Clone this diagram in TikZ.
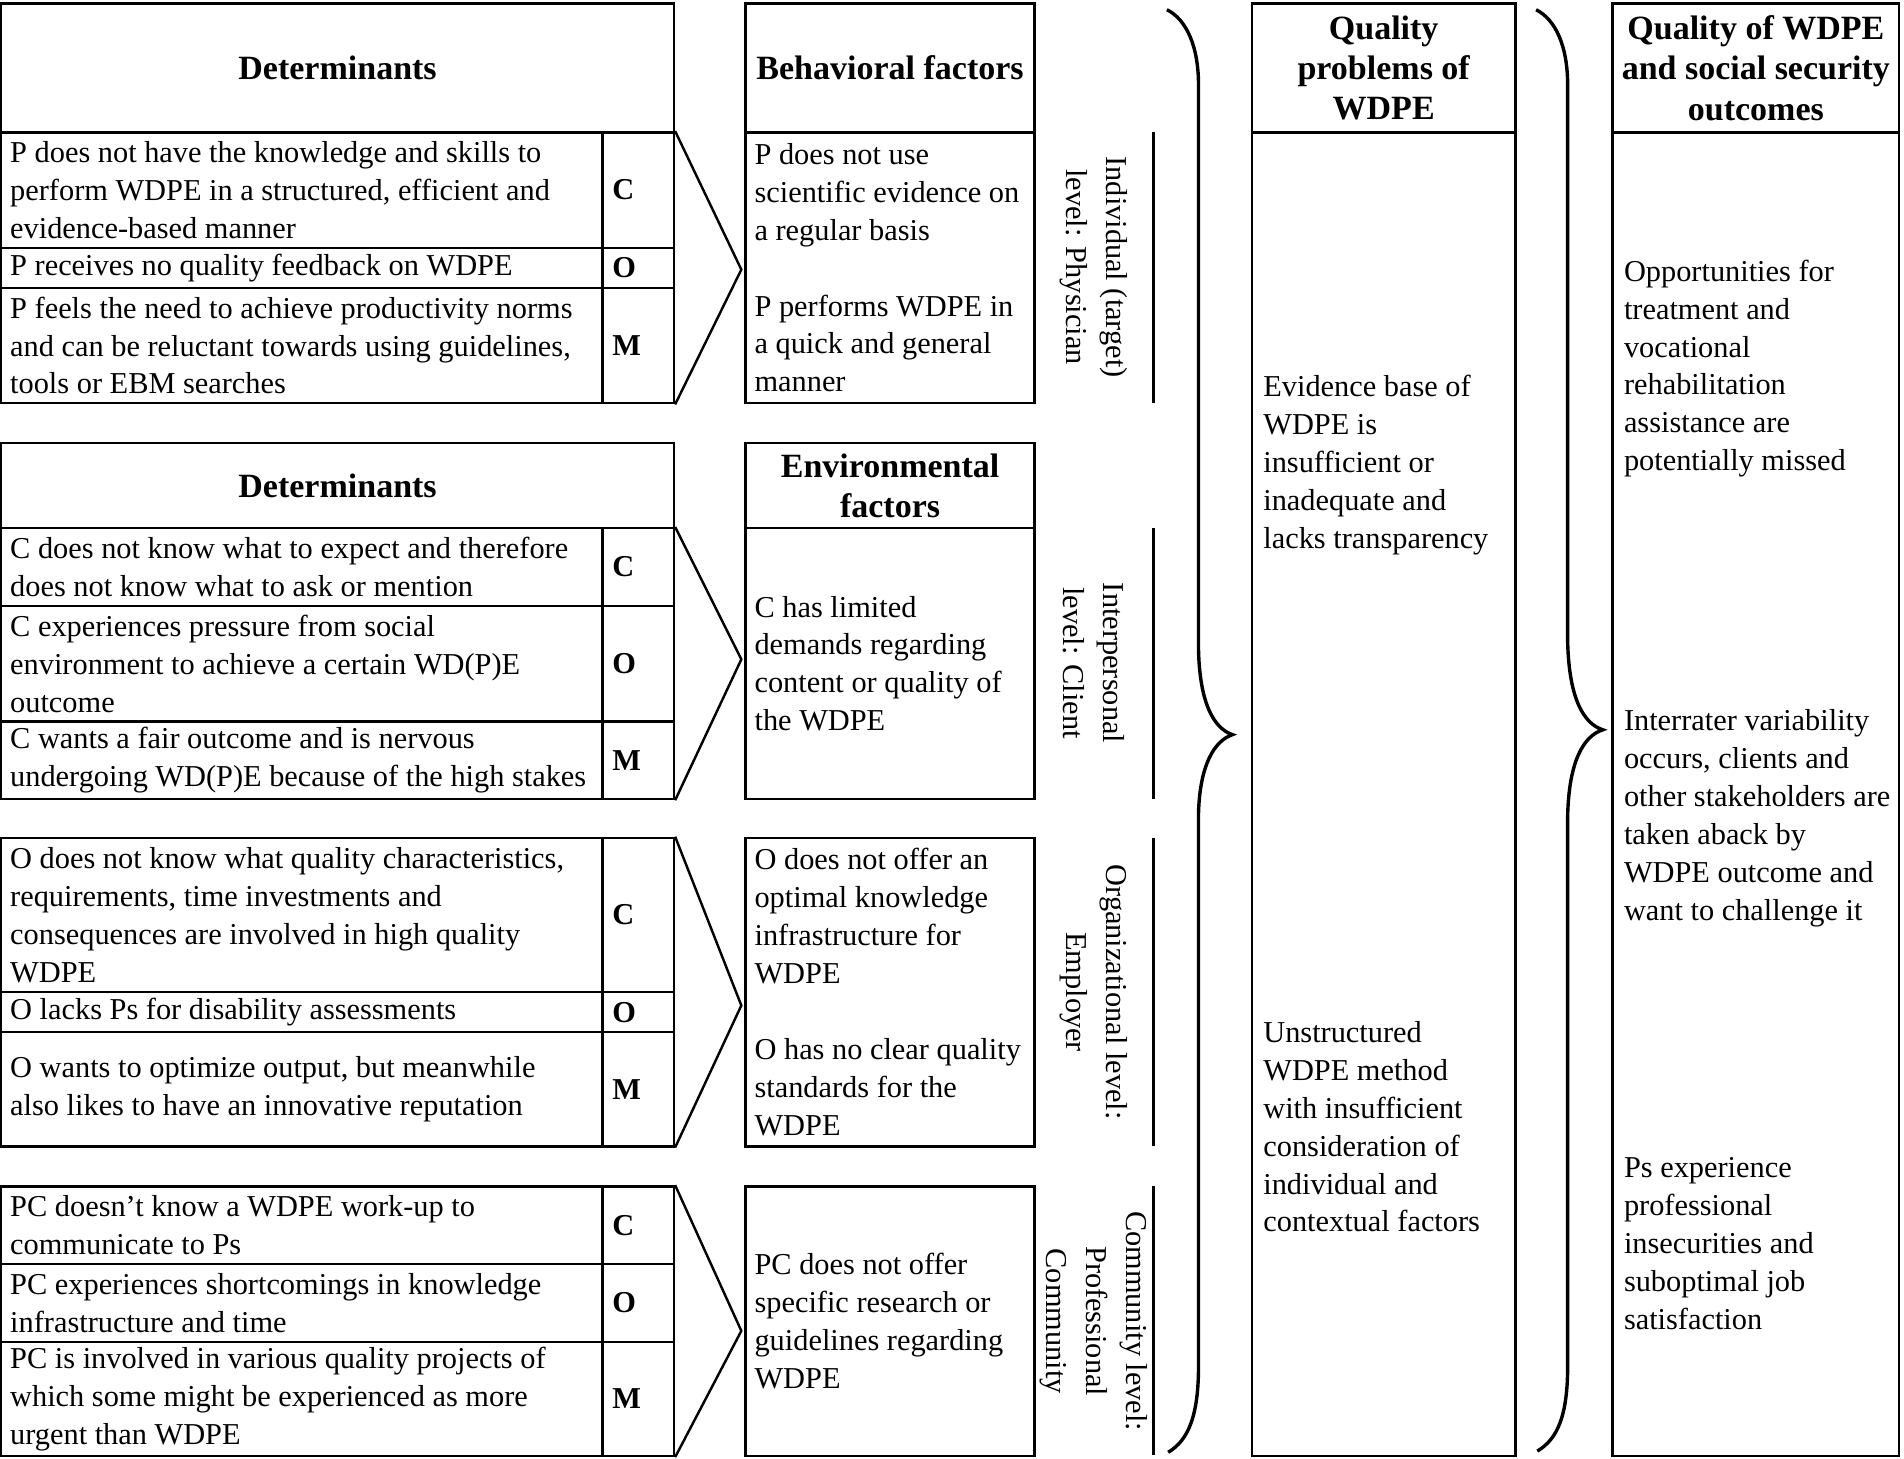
\documentclass[tikz,border=0pt]{standalone}
\usepackage{fontspec}
\setmainfont{Liberation Serif}
\usetikzlibrary{fit}
\tikzset{
  cell/.style={draw, line width=1pt, inner sep=0pt},
  body/.style={font=\fontsize{12.5}{15.6}\selectfont, align=left, inner sep=0pt},
  hdr/.style={font=\fontsize{14}{16.6}\selectfont\bfseries, align=center, inner sep=0pt},
  cml/.style={font=\fontsize{12.5}{15.6}\selectfont\bfseries, inner sep=0pt},
  lvl/.style={font=\fontsize{12.5}{16.5}\selectfont, align=center, rotate=-90, inner sep=0pt},
  chev/.style={line width=1pt, line join=miter},
  bracepath/.style={line width=1.4pt},
  lvline/.style={line width=1.1pt}
}
\newcommand\cellbox[3]{\node[cell, fit={#2 #3}] (#1) {};}
\begin{document}
\begin{tikzpicture}[x=0.5pt,y=-0.5pt]
\useasboundingbox (0,0) rectangle (1568,1200.7);

% ---------------- Block 1 ----------------
\cellbox{aH1}{(1,3)}{(555,109)}
\cellbox{aR11}{(1,109)}{(496,204)}\cellbox{aL11}{(496,109)}{(555,204)}
\cellbox{aR12}{(1,204)}{(496,237)}\cellbox{aL12}{(496,204)}{(555,237)}
\cellbox{aR13}{(1,237)}{(496,332)}\cellbox{aL13}{(496,237)}{(555,332)}
\node[hdr] (tH1) at (aH1.center) {Determinants};
\node[body, anchor=west, xshift=4pt] (t11) at (aR11.west) {P does not have the knowledge and skills to\\perform WDPE in a structured, efficient and\\evidence-based manner};
\node[body, anchor=west, xshift=4pt] (t12) at (aR12.west) {P receives no quality feedback on WDPE};
\node[body, anchor=west, xshift=4pt] (t13) at (aR13.west) {P feels the need to achieve productivity norms\\and can be reluctant towards using guidelines,\\tools or EBM searches};
\node[cml, anchor=west, xshift=4.5pt] (l11) at (aL11.west) {C};
\node[cml, anchor=west, xshift=4.5pt] (l12) at (aL12.west) {O};
\node[cml, anchor=west, xshift=4.5pt] (l13) at (aL13.west) {M};
\coordinate (tip1) at (610.5,222);
\draw[chev] (aL11.north east) -- (tip1) -- (aL13.south east);
\cellbox{bH1}{(614,3)}{(852,109)}
\cellbox{bB1}{(614,109)}{(852,332)}
\node[hdr] (tbH1) at (bH1.center) {Behavioral factors};
\node[body, anchor=west, xshift=4pt] (tb1) at (bB1.west) {P does not use\\scientific evidence on\\a regular basis\\[15.6pt]P performs WDPE in\\a quick and general\\manner};
\node[lvl] (lv1) at (900.5,220) {Individual (target)\\level: Physician};
\coordinate (v1a) at (950,109); \coordinate (v1b) at (950,332);
\draw[lvline] (v1a) -- (v1b);

% ---------------- Block 2 ----------------
\cellbox{aH2}{(1,365)}{(555,435)}
\cellbox{aR21}{(1,435)}{(496,499)}\cellbox{aL21}{(496,435)}{(555,499)}
\cellbox{aR22}{(1,499)}{(496,594)}\cellbox{aL22}{(496,499)}{(555,594)}
\cellbox{aR23}{(1,594)}{(496,658)}\cellbox{aL23}{(496,594)}{(555,658)}
\node[hdr] (tH2) at (aH2.center) {Determinants};
\node[body, anchor=west, xshift=4pt] (t21) at (aR21.west) {C does not know what to expect and therefore\\does not know what to ask or mention};
\node[body, anchor=west, xshift=4pt] (t22) at (aR22.west) {C experiences pressure from social\\environment to achieve a certain WD(P)E\\outcome};
\node[body, anchor=west, xshift=4pt] (t23) at (aR23.west) {C wants a fair outcome and is nervous\\undergoing WD(P)E because of the high stakes};
\node[cml, anchor=west, xshift=4.5pt] (l21) at (aL21.west) {C};
\node[cml, anchor=west, xshift=4.5pt] (l22) at (aL22.west) {O};
\node[cml, anchor=west, xshift=4.5pt] (l23) at (aL23.west) {M};
\coordinate (tip2) at (610.5,543);
\draw[chev] (aL21.north east) -- (tip2) -- (aL23.south east);
\cellbox{bH2}{(614,365)}{(852,435)}
\cellbox{bB2}{(614,435)}{(852,658)}
\node[hdr] (tbH2) at (bH2.center) {Environmental\\factors};
\node[body, anchor=west, xshift=4pt] (tb2) at (bB2.west) {C has limited\\demands regarding\\content or quality of\\the WDPE};
\node[lvl] (lv2) at (900.5,546) {Interpersonal\\level: Client};
\coordinate (v2a) at (950,435); \coordinate (v2b) at (950,658);
\draw[lvline] (v2a) -- (v2b);

% ---------------- Block 3 ----------------
\cellbox{aR31}{(1,690)}{(496,817)}\cellbox{aL31}{(496,690)}{(555,817)}
\cellbox{aR32}{(1,817)}{(496,850)}\cellbox{aL32}{(496,817)}{(555,850)}
\cellbox{aR33}{(1,850)}{(496,944)}\cellbox{aL33}{(496,850)}{(555,944)}
\node[body, anchor=west, xshift=4pt] (t31) at (aR31.west) {O does not know what quality characteristics,\\requirements, time investments and\\consequences are involved in high quality\\WDPE};
\node[body, anchor=west, xshift=4pt] (t32) at (aR32.west) {O lacks Ps for disability assessments};
\node[body, anchor=west, xshift=4pt] (t33) at (aR33.west) {O wants to optimize output, but meanwhile\\also likes to have an innovative reputation};
\node[cml, anchor=west, xshift=4.5pt] (l31) at (aL31.west) {C};
\node[cml, anchor=west, xshift=4.5pt] (l32) at (aL32.west) {O};
\node[cml, anchor=west, xshift=4.5pt] (l33) at (aL33.west) {M};
\coordinate (tip3) at (610.5,828);
\draw[chev] (aL31.north east) -- (tip3) -- (aL33.south east);
\cellbox{bB3}{(614,690)}{(852,944)}
\node[body, anchor=west, xshift=4pt] (tb3) at (bB3.west) {O does not offer an\\optimal knowledge\\infrastructure for\\WDPE\\[15.6pt]O has no clear quality\\standards for the\\WDPE};
\node[lvl] (lv3) at (900.5,817) {Organizational level:\\Employer};
\coordinate (v3a) at (950,690); \coordinate (v3b) at (950,944);
\draw[lvline] (v3a) -- (v3b);

% ---------------- Block 4 ----------------
\cellbox{aR41}{(1,977)}{(496,1041)}\cellbox{aL41}{(496,977)}{(555,1041)}
\cellbox{aR42}{(1,1041)}{(496,1105)}\cellbox{aL42}{(496,1041)}{(555,1105)}
\cellbox{aR43}{(1,1105)}{(496,1199)}\cellbox{aL43}{(496,1105)}{(555,1199)}
\node[body, anchor=west, xshift=4pt] (t41) at (aR41.west) {PC doesn’t know a WDPE work-up to\\communicate to Ps};
\node[body, anchor=west, xshift=4pt] (t42) at (aR42.west) {PC experiences shortcomings in knowledge\\infrastructure and time};
\node[body, anchor=west, xshift=4pt] (t43) at (aR43.west) {PC is involved in various quality projects of\\which some might be experienced as more\\urgent than WDPE};
\node[cml, anchor=west, xshift=4.5pt] (l41) at (aL41.west) {C};
\node[cml, anchor=west, xshift=4.5pt] (l42) at (aL42.west) {O};
\node[cml, anchor=west, xshift=4.5pt] (l43) at (aL43.west) {M};
\coordinate (tip4) at (610.5,1096);
\draw[chev] (aL41.north east) -- (tip4) -- (aL43.south east);
\cellbox{bB4}{(614,977)}{(852,1199)}
\node[body, anchor=west, xshift=4pt] (tb4) at (bB4.west) {PC does not offer\\specific research or\\guidelines regarding\\WDPE};
\node[lvl] (lv4) at (900.5,1088) {Community level:\\Professional\\Community};
\coordinate (v4a) at (950,977); \coordinate (v4b) at (950,1198);
\draw[lvline] (v4a) -- (v4b);

% ---------------- Braces ----------------
\draw[bracepath] (961,8) .. controls (977,16) and (987,38) .. (987,70) -- (987,535)
  .. controls (988,580) and (1000,600) .. (1015,605)
  .. controls (1000,610) and (988,630) .. (987,670) -- (987,1125)
  .. controls (987,1165) and (979,1186) .. (962,1196);
\draw[bracepath] (1265,8) .. controls (1281,16) and (1291,38) .. (1291,70) -- (1291,528)
  .. controls (1292,575) and (1304,596) .. (1320,601)
  .. controls (1304,606) and (1292,627) .. (1291,672) -- (1291,1125)
  .. controls (1291,1165) and (1283,1185) .. (1266,1195);

% ---------------- Column C ----------------
\cellbox{cH}{(1031,3)}{(1248,109)}
\cellbox{cB}{(1031,109)}{(1248,1199)}
\node[hdr] (tcH) at (cH.center) {Quality\\problems of\\WDPE};
\node[body, anchor=west] (tc1) at (1040,383) {Evidence base of\\WDPE is\\insufficient or\\inadequate and\\lacks transparency};
\node[body, anchor=west] (tc2) at (1040,928) {Unstructured\\WDPE method\\with insufficient\\consideration of\\individual and\\contextual factors};

% ---------------- Column D ----------------
\cellbox{dH}{(1328,3)}{(1564,109)}
\cellbox{dB}{(1328,109)}{(1564,1199)}
\node[hdr] (tdH) at (dH.center) {Quality of WDPE\\and social security\\outcomes};
\node[body, anchor=west] (td1) at (1337,303.5) {Opportunities for\\treatment and\\vocational\\rehabilitation\\assistance are\\potentially missed};
\node[body, anchor=west] (td2) at (1337,674) {Interrater variability\\occurs, clients and\\other stakeholders are\\taken aback by\\WDPE outcome and\\want to challenge it};
\node[body, anchor=west] (td3) at (1337,1024) {Ps experience\\professional\\insecurities and\\suboptimal job\\satisfaction};
\end{tikzpicture}
\end{document}
